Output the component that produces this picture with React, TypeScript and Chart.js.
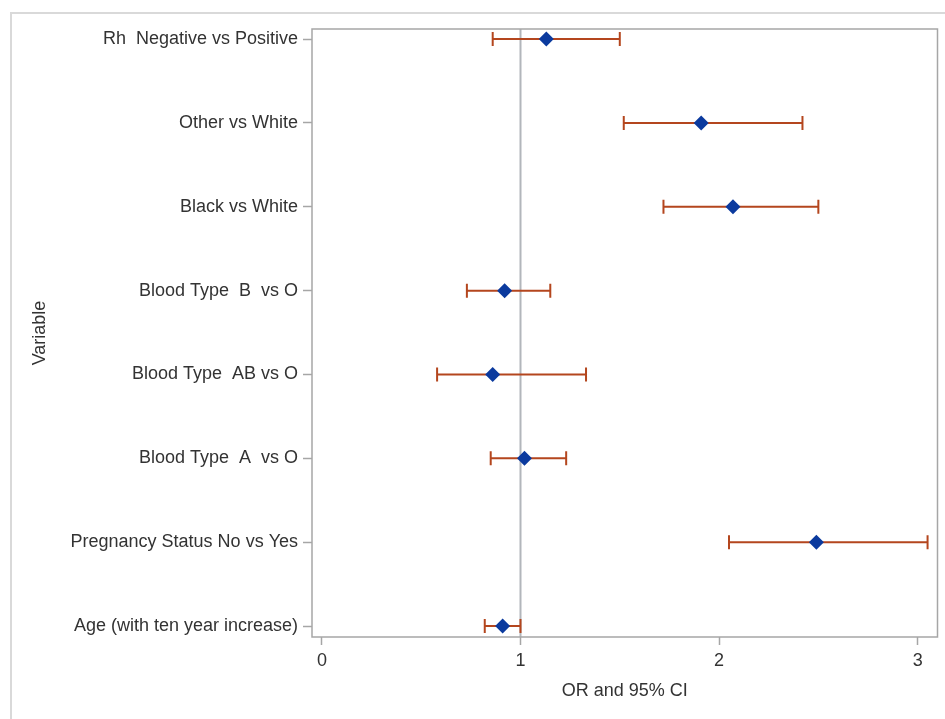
import React, { useEffect, useRef } from "react";
import { Chart, registerables } from "chart.js";

Chart.register(...registerables);

const variables = [
  "Rh  Negative vs Positive",
  "Other vs White",
  "Black vs White",
  "Blood Type  B  vs O",
  "Blood Type  AB vs O",
  "Blood Type  A  vs O",
  "Pregnancy Status No vs Yes",
  "Age (with ten year increase)",
];
const oddsRatio = [1.13, 1.91, 2.07, 0.92, 0.86, 1.02, 2.49, 0.91];
const lowerCI = [0.86, 1.52, 1.72, 0.73, 0.58, 0.85, 2.05, 0.82];
const upperCI = [1.5, 2.42, 2.5, 1.15, 1.33, 1.23, 3.05, 1.0];
const xTickValues = [0, 1, 2, 3];
const referenceValue = 1;

const FONT = "'Liberation Sans', Arial, sans-serif";
const TEXT = "#333333";

const forestPlugin = {
  id: "forest",
  beforeDatasetsDraw(chart: any) {
    const { ctx, chartArea: a, scales } = chart;
    const xs = scales.x;
    const ys = scales.y;
    ctx.save();
    const xr = xs.getPixelForValue(referenceValue);
    ctx.strokeStyle = "#b2b6bb";
    ctx.lineWidth = 2;
    ctx.beginPath();
    ctx.moveTo(xr, a.top);
    ctx.lineTo(xr, a.bottom);
    ctx.stroke();

    ctx.strokeStyle = "#b4461e";
    ctx.lineWidth = 2;
    for (let i = 0; i < variables.length; i++) {
      const yy = ys.getPixelForValue(i);
      const xl = xs.getPixelForValue(lowerCI[i]);
      const xh = xs.getPixelForValue(upperCI[i]);
      ctx.beginPath();
      ctx.moveTo(xl, yy);
      ctx.lineTo(xh, yy);
      ctx.moveTo(xl, yy - 7);
      ctx.lineTo(xl, yy + 7);
      ctx.moveTo(xh, yy - 7);
      ctx.lineTo(xh, yy + 7);
      ctx.stroke();
    }
    ctx.restore();
  },
  afterDraw(chart: any) {
    const { ctx, chartArea: a } = chart;
    ctx.save();
    ctx.strokeStyle = "#a6a6a6";
    ctx.lineWidth = 1.5;
    ctx.strokeRect(a.left, a.top, a.right - a.left, a.bottom - a.top);
    ctx.restore();
  },
};

export default function App() {
  const ref = useRef<HTMLCanvasElement | null>(null);

  useEffect(() => {
    if (!ref.current) return;
    const chart = new Chart(ref.current, {
      type: "scatter",
      data: {
        datasets: [
          {
            label: "OR",
            data: oddsRatio.map((v, i) => ({ x: v, y: i })),
            pointStyle: "rectRot",
            pointRadius: 7.5,
            pointHoverRadius: 7.5,
            backgroundColor: "#0b3a9e",
            borderColor: "#0b3a9e",
            borderWidth: 0,
          },
        ],
      },
      options: {
        responsive: false,
        animation: false,
        devicePixelRatio: 1,
        layout: { padding: { left: 0, top: 29, right: 4, bottom: 0 } },
        plugins: {
          legend: { display: false },
          tooltip: { enabled: false },
        },
        scales: {
          x: {
            type: "linear",
            min: -0.05,
            max: 3.1,
            afterBuildTicks: (s: any) => {
              s.ticks = xTickValues.map((v) => ({ value: v }));
            },
            afterFit: (s: any) => {
              s.height = 82;
              s.paddingLeft = 0;
              s.paddingRight = 0;
            },
            border: { display: false },
            grid: {
              drawOnChartArea: false,
              drawTicks: true,
              tickLength: 8,
              tickColor: "#a6a6a6",
              tickWidth: 1.5,
            },
            ticks: {
              padding: 5,
              color: TEXT,
              font: { family: FONT, size: 18 },
              maxRotation: 0,
            },
            title: {
              display: true,
              text: "OR and 95% CI",
              color: TEXT,
              font: { family: FONT, size: 18 },
              padding: { top: 0, bottom: 17 },
            },
          },
          y: {
            type: "linear",
            reverse: true,
            min: -0.12,
            max: 7.13,
            afterBuildTicks: (s: any) => {
              s.ticks = variables.map((_, i) => ({ value: i }));
            },
            afterFit: (s: any) => {
              s.width = 312;
              s.paddingTop = 0;
              s.paddingBottom = 0;
            },
            border: { display: false },
            grid: {
              drawOnChartArea: false,
              drawTicks: true,
              tickLength: 9,
              tickColor: "#a6a6a6",
              tickWidth: 1.5,
            },
            ticks: {
              padding: 5,
              color: TEXT,
              font: { family: FONT, size: 18 },
              callback: (v: any) => variables[Number(v)] ?? "",
            },
            title: {
              display: true,
              text: "Variable",
              color: TEXT,
              font: { family: FONT, size: 18 },
              padding: { top: 29, bottom: 0 },
            },
          },
        },
      },
      plugins: [forestPlugin],
    });
    return () => chart.destroy();
  }, []);

  return (
    <div style={{ position: "absolute", left: 0, top: 0, width: 945, height: 719, overflow: "hidden", background: "#ffffff" }}>
      <div
        style={{
          position: "absolute",
          left: 10,
          top: 12,
          width: 960,
          height: 740,
          borderLeft: "2px solid #d9d9d9",
          borderTop: "2px solid #d9d9d9",
        }}
      />
      <canvas ref={ref} width={945} height={719} style={{ position: "absolute", left: 0, top: 0, display: "block" }} />
    </div>
  );
}
